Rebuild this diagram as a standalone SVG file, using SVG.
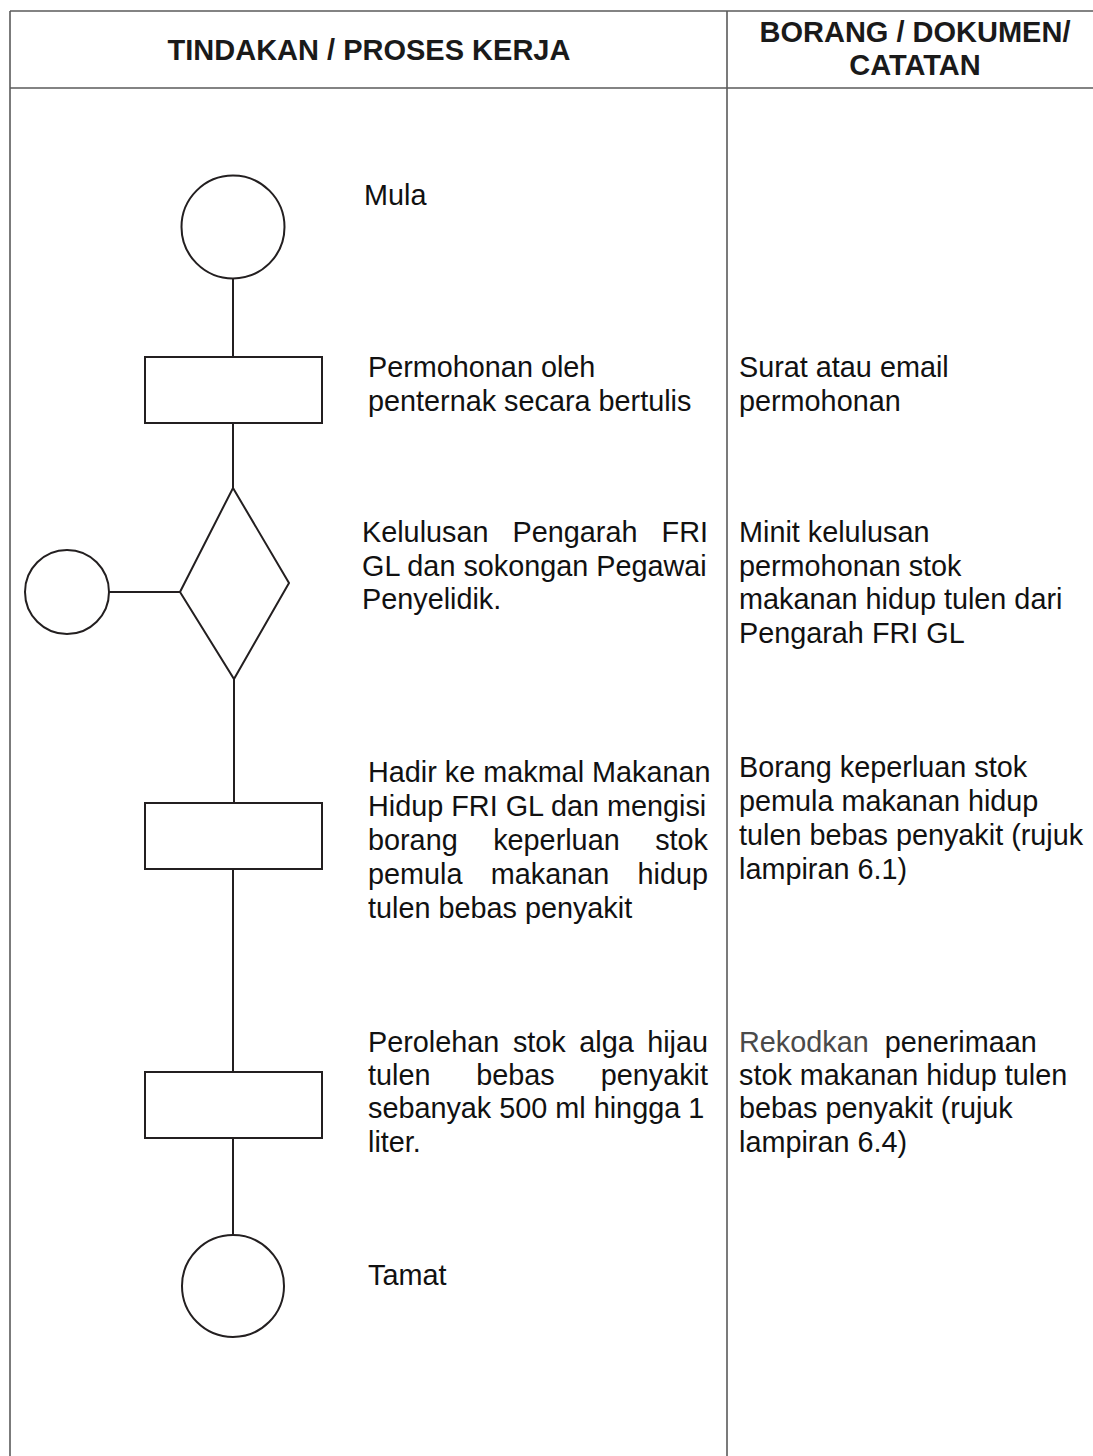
<svg xmlns="http://www.w3.org/2000/svg" width="1093" height="1456" viewBox="0 0 1093 1456">
<style>
.grid{stroke:#5a5a5a;stroke-width:1.6;fill:none}
.shape{stroke:#231f20;stroke-width:2;fill:#fff}
.conn{stroke:#231f20;stroke-width:2;fill:none}
.hd{font-family:"Liberation Sans",Arial,sans-serif;font-weight:bold;font-size:29px;fill:#1a1a1a;text-anchor:middle}
.tx{font-family:"Liberation Sans",Arial,sans-serif;font-size:28.8px;fill:#111}
.rk{fill:#4a4a4a}
</style>
<rect width="1093" height="1456" fill="#fff"/>
<g id="table">
<line class="grid" x1="10" y1="11" x2="1093" y2="11"/>
<line class="grid" x1="10" y1="88" x2="1093" y2="88"/>
<line class="grid" x1="10" y1="11" x2="10" y2="1456"/>
<line class="grid" x1="727" y1="11" x2="727" y2="1456"/>
<text class="hd" x="369" y="60">TINDAKAN / PROSES KERJA</text>
<text class="hd" x="915" y="42">BORANG / DOKUMEN/</text>
<text class="hd" x="915" y="75">CATATAN</text>
</g>
<g id="connectors">
<line class="conn" x1="233" y1="278" x2="233" y2="357"/>
<line class="conn" x1="233" y1="423" x2="233" y2="488"/>
<line class="conn" x1="109" y1="592" x2="180" y2="592"/>
<line class="conn" x1="234" y1="679" x2="234" y2="803"/>
<line class="conn" x1="233" y1="869" x2="233" y2="1072"/>
<line class="conn" x1="233" y1="1138" x2="233" y2="1235"/>
</g>
<g id="start">
<circle class="shape" cx="233" cy="227" r="51.5"/>
<text class="tx" x="364" y="205">Mula</text>
</g>
<g id="request">
<rect class="shape" x="145" y="357" width="177" height="66"/>
<text class="tx" x="368" y="377">Permohonan oleh</text>
<text class="tx" x="368" y="411">penternak secara bertulis</text>
<text class="tx" x="739" y="377">Surat atau email</text>
<text class="tx" x="739" y="411">permohonan</text>
</g>
<g id="approval">
<polygon class="shape" points="233,488 289,583 234,679 180,592"/>
<text class="tx" y="542"><tspan x="362">Kelulusan</tspan><tspan x="512.6">Pengarah</tspan><tspan x="661.6">FRI</tspan></text>
<text class="tx" x="362" y="576">GL dan sokongan Pegawai</text>
<text class="tx" x="362" y="609">Penyelidik.</text>
<text class="tx" x="739" y="542">Minit kelulusan</text>
<text class="tx" x="739" y="576">permohonan stok</text>
<text class="tx" x="739" y="609">makanan hidup tulen dari</text>
<text class="tx" x="739" y="643">Pengarah FRI GL</text>
</g>
<g id="connector-circle">
<circle class="shape" cx="67" cy="592" r="42"/>
</g>
<g id="visit">
<rect class="shape" x="145" y="803" width="177" height="66"/>
<text class="tx" x="368" y="782">Hadir ke makmal Makanan</text>
<text class="tx" x="368" y="816">Hidup FRI GL dan mengisi</text>
<text class="tx" y="850"><tspan x="368">borang</tspan><tspan x="493.2">keperluan</tspan><tspan x="655.2">stok</tspan></text>
<text class="tx" y="884"><tspan x="368">pemula</tspan><tspan x="490.8">makanan</tspan><tspan x="637.6">hidup</tspan></text>
<text class="tx" x="368" y="918">tulen bebas penyakit</text>
<text class="tx" x="739" y="777">Borang keperluan stok</text>
<text class="tx" x="739" y="811">pemula makanan hidup</text>
<text class="tx" x="739" y="845">tulen bebas penyakit (rujuk</text>
<text class="tx" x="739" y="879">lampiran 6.1)</text>
</g>
<g id="obtain">
<rect class="shape" x="145" y="1072" width="177" height="66"/>
<text class="tx" y="1052"><tspan x="368">Perolehan</tspan><tspan x="512.9">stok</tspan><tspan x="579.3">alga</tspan><tspan x="647.2">hijau</tspan></text>
<text class="tx" y="1085"><tspan x="368">tulen</tspan><tspan x="476.3">bebas</tspan><tspan x="600.7">penyakit</tspan></text>
<text class="tx" x="368" y="1118">sebanyak 500 ml hingga 1</text>
<text class="tx" x="368" y="1152">liter.</text>
<text class="tx" x="739" y="1052" xml:space="preserve"><tspan class="rk">Rekodkan</tspan>  penerimaan</text>
<text class="tx" x="739" y="1085">stok makanan hidup tulen</text>
<text class="tx" x="739" y="1118">bebas penyakit (rujuk</text>
<text class="tx" x="739" y="1152">lampiran 6.4)</text>
</g>
<g id="end">
<circle class="shape" cx="233" cy="1286" r="51"/>
<text class="tx" x="368" y="1285">Tamat</text>
</g>
</svg>
